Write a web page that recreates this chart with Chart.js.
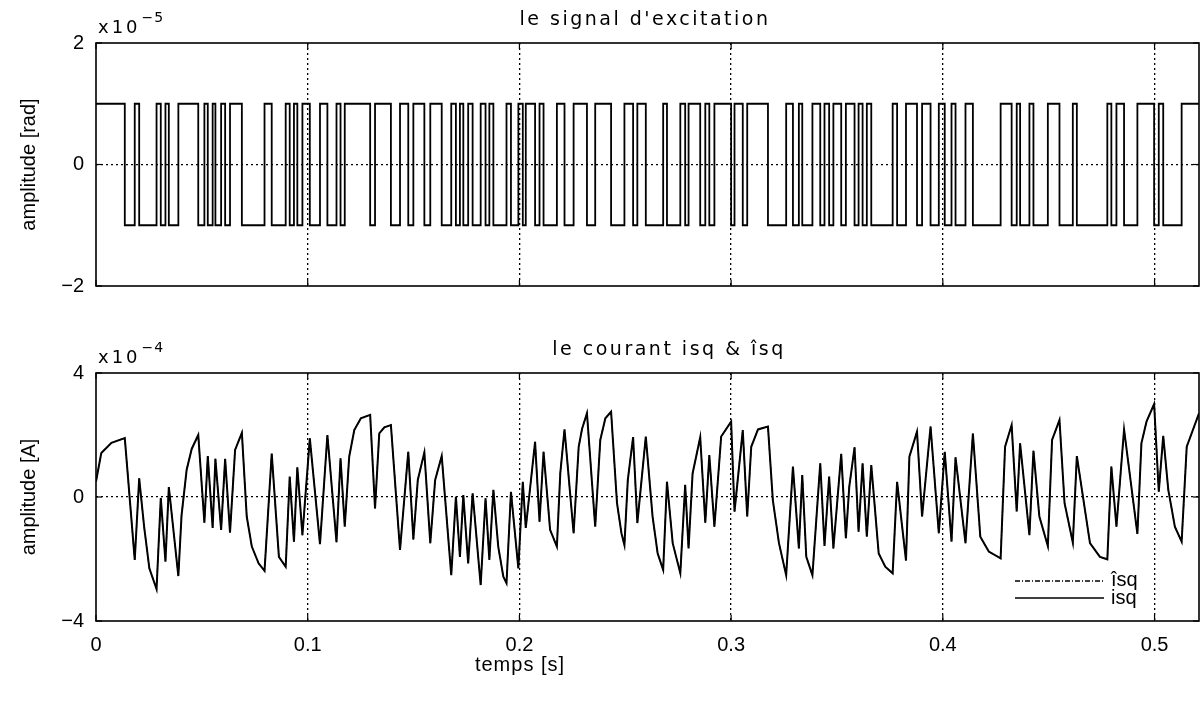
<!DOCTYPE html>
<html>
<head>
<meta charset="utf-8">
<script src="https://cdn.jsdelivr.net/npm/chart.js@4.4.0/dist/chart.umd.min.js"></script>
<style>
  body { margin: 0; background: #fff; }
  #wrap { position: relative; width: 1204px; height: 702px; }
  #top { position: absolute; left: 0; top: 0; }
  #bot { position: absolute; left: 0; top: 310px; }
</style>
</head>
<body>
<div id="wrap">
  <canvas id="top" width="1204" height="310"></canvas>
  <canvas id="bot" width="1204" height="392"></canvas>
</div>
<script>
// time axis
var xMax = 0.521;
var xTicks = [0, 0.1, 0.2, 0.3, 0.4, 0.5];
var xLabels = ['0', '0.1', '0.2', '0.3', '0.4', '0.5'];

// excitation signal (x1e-5 rad): starts at +1, flips sign at each switch time
var excStart = 1;
var excSwitch = [0.0136,0.0183,0.0204,0.0286,0.0306,0.0328,0.0344,0.0389,0.0483,0.0512,
  0.0528,0.0551,0.0564,0.0591,0.061,0.0633,0.0689,0.0796,0.083,0.0896,
  0.0915,0.0935,0.0951,0.0975,0.101,0.1058,0.1093,0.1136,0.1155,0.1175,
  0.1295,0.1318,0.1393,0.1436,0.1475,0.1499,0.1551,0.1579,0.1633,0.1678,
  0.17,0.1719,0.1735,0.1758,0.1779,0.1817,0.184,0.1858,0.1877,0.1939,
  0.196,0.1995,0.2016,0.203,0.2074,0.2095,0.2114,0.2177,0.2213,0.2256,
  0.2319,0.2358,0.2433,0.2496,0.2537,0.2557,0.2597,0.2679,0.2697,0.276,
  0.2783,0.2799,0.2854,0.2878,0.2897,0.2921,0.3,0.3016,0.3055,0.3076,
  0.3174,0.326,0.3292,0.332,0.3336,0.3384,0.3421,0.3441,0.3463,0.3483,
  0.352,0.3542,0.3583,0.3602,0.3621,0.3641,0.3662,0.3763,0.3784,0.3826,
  0.3878,0.3902,0.3942,0.3981,0.4009,0.4041,0.406,0.4107,0.4142,0.4273,
  0.4325,0.4349,0.4365,0.4409,0.4428,0.4496,0.4551,0.4614,0.4633,0.4777,
  0.4796,0.482,0.4856,0.4919,0.4998,0.502,0.5041,0.5128];
var excYTicks = [-2, 0, 2];
var excYLabels = ['\u22122', '0', '2'];

// current isq (x1e-4 A)
var isqT = [0,0.0025,0.0073,0.0136,0.0183,0.0204,0.0228,0.0252,0.0286,0.0306,0.0328,0.0344,0.0389,0.0404,0.0428,
  0.0452,0.0483,0.0512,0.0528,0.0551,0.0564,0.0591,0.061,0.0633,0.0657,0.0689,0.0712,0.0736,0.0768,0.0796,
  0.083,0.0864,0.0896,0.0915,0.0935,0.0951,0.0975,0.101,0.1058,0.1093,0.1136,0.1155,0.1175,0.1196,0.122,
  0.1251,0.1295,0.1318,0.1338,0.1362,0.1393,0.1436,0.1475,0.1499,0.152,0.1551,0.1579,0.1602,0.1633,0.1678,
  0.17,0.1719,0.1735,0.1758,0.1779,0.1817,0.184,0.1858,0.1877,0.19,0.1924,0.1939,0.196,0.1995,0.2016,
  0.203,0.2074,0.2095,0.2114,0.2145,0.2177,0.2193,0.2213,0.2256,0.228,0.2296,0.2319,0.2358,0.2382,0.2406,
  0.2433,0.2461,0.2482,0.2496,0.2512,0.2537,0.2557,0.2597,0.2629,0.2653,0.2679,0.2697,0.2724,0.276,0.2783,
  0.2799,0.2818,0.2854,0.2878,0.2897,0.2921,0.2953,0.3,0.3016,0.3055,0.3076,0.3095,0.3127,0.3174,0.3197,
  0.3226,0.326,0.3292,0.332,0.3336,0.3355,0.3384,0.3421,0.3441,0.3463,0.3483,0.352,0.3542,0.3558,0.3583,
  0.3602,0.3621,0.3641,0.3662,0.3697,0.3728,0.3763,0.3784,0.3826,0.3842,0.3878,0.3902,0.3942,0.3981,0.4009,
  0.4041,0.406,0.4107,0.4142,0.4177,0.4217,0.4273,0.4294,0.4325,0.4349,0.4365,0.4409,0.4428,0.4456,0.4496,
  0.4516,0.4551,0.4575,0.4614,0.4633,0.4695,0.4742,0.4777,0.4796,0.482,0.4856,0.4919,0.4938,0.4962,0.4998,
  0.502,0.5041,0.5065,0.5096,0.5128,0.5152,0.521];
var isqV = [0.5,1.42,1.75,1.9,-2.03,0.6,-1.0,-2.3,-2.97,-0.03,-2.09,0.32,-2.55,-0.6,0.87,
  1.55,2.0,-0.83,1.32,-1.0,1.23,-1.06,1.23,-1.15,1.52,2.07,-0.63,-1.6,-2.14,-2.38,
  1.4,-1.93,-2.25,0.66,-1.44,0.96,-1.23,1.89,-1.52,2.0,-1.46,1.25,-0.96,1.3,2.16,
  2.54,2.65,-0.37,2.05,2.25,2.32,-1.71,1.46,-1.37,0.55,1.44,-1.49,0.55,1.32,-2.52,
  0.01,-1.93,0.06,-2.14,0.12,-2.84,-0.04,-2.03,0.23,-1.6,-2.57,-2.78,0.17,-2.3,0.49,
  -1.0,1.78,-0.8,1.46,-1.06,-1.6,0.76,2.18,-1.17,1.62,2.2,2.7,-0.96,1.84,2.54,
  2.75,-0.2,-1.17,-1.55,0.55,1.93,-0.84,1.95,-0.63,-1.82,-2.35,0.49,-1.49,-2.46,0.39,
  -1.66,0.76,1.93,-0.83,1.35,-0.96,1.95,2.43,-0.47,2.16,-0.63,1.62,2.18,2.27,-0.1,
  -1.49,-2.52,0.98,-1.66,0.71,-1.93,-2.52,1.09,-1.58,0.66,-1.66,1.39,-1.33,0.33,1.6,
  -1.12,1.09,-1.28,1.03,-1.82,-2.25,-2.46,0.49,-2.05,1.3,2.11,-0.63,2.27,-1.17,1.46,
  -1.44,1.28,-1.49,2.05,-1.28,-1.76,-1.98,1.62,2.32,-0.47,1.73,-1.23,1.49,-0.63,-1.58,
  1.84,2.48,-0.2,-1.47,1.32,-1.49,-1.93,-2.01,0.98,-0.96,2.18,-1.19,1.73,2.43,3.0,
  0.17,1.97,0.23,-0.96,-1.44,1.62,2.7];
var isqYTicks = [-4, 0, 4];
var isqYLabels = ['\u22124', '0', '4'];

var FONT = '"Liberation Sans", Arial, sans-serif';
var WIDE = '"DejaVu Sans", sans-serif';

// build point tables from the arrays
var excData = [{ x: 0, y: excStart }];
var lvl = excStart;
excSwitch.forEach(function (t) {
  lvl = -lvl;
  excData.push({ x: t, y: lvl });
});
excData.push({ x: xMax, y: lvl });

var isqData = isqT.map(function (t, i) { return { x: t, y: isqV[i] }; });

function line(ctx, x1, y1, x2, y2) {
  ctx.beginPath(); ctx.moveTo(x1, y1); ctx.lineTo(x2, y2); ctx.stroke();
}

// frame, inner tick marks, titles, exponent, legend
var deco = {
  id: 'deco',
  afterDraw: function (chart, args, o) {
    var ctx = chart.ctx, a = chart.chartArea;
    var xs = chart.scales.x, ys = chart.scales.y;
    ctx.save();
    ctx.strokeStyle = '#000';
    ctx.lineWidth = 1.6;
    ctx.setLineDash([]);
    ctx.strokeRect(a.left, a.top, a.right - a.left, a.bottom - a.top);
    ctx.lineWidth = 1.2;
    xTicks.forEach(function (v) {
      var px = xs.getPixelForValue(v);
      line(ctx, px, a.top, px, a.top + 6);
      line(ctx, px, a.bottom, px, a.bottom - 6);
    });
    o.yTicks.forEach(function (v) {
      var py = ys.getPixelForValue(v);
      line(ctx, a.left, py, a.left + 6, py);
      line(ctx, a.right, py, a.right - 6, py);
    });

    ctx.fillStyle = '#000';
    ctx.textBaseline = 'alphabetic';
    ctx.textAlign = 'center';
    ctx.font = '19px ' + WIDE;
    ctx.letterSpacing = '2.5px';
    ctx.fillText(o.title, o.titleX, a.top - 18);

    ctx.textAlign = 'left';
    ctx.font = '18px ' + WIDE;
    ctx.letterSpacing = '3px';
    ctx.fillText('x10', a.left + 2, a.top - 10);
    var w = ctx.measureText('x10').width;
    ctx.font = '14px ' + WIDE;
    ctx.letterSpacing = '1px';
    ctx.fillText(o.exp, a.left + w + 3, a.top - 21);
    ctx.letterSpacing = '0px';

    if (o.xTitle) {
      ctx.textAlign = 'center';
      ctx.font = '20px ' + FONT;
      ctx.letterSpacing = '1px';
      ctx.fillText(o.xTitle, 520, a.bottom + 50);
      ctx.letterSpacing = '0px';
    }

    if (o.legend) {
      // legend sits inside the lower right corner of the axes
      var ly = a.bottom - 40;
      ctx.lineWidth = 1.4;
      ctx.setLineDash([5, 2, 1, 2]);
      line(ctx, 1015, ly, 1104, ly);
      ctx.setLineDash([]);
      line(ctx, 1015, ly + 17, 1104, ly + 17);
      ctx.font = '20px ' + FONT;
      ctx.textAlign = 'left';
      ctx.fillText('\u00eesq', 1111, ly + 5);
      ctx.fillText('isq', 1111, ly + 23);
    }
    ctx.restore();
  }
};

function makeScales(yMin, yMax, yTicks, yLabels, yTitle, showX) {
  return {
    x: {
      type: 'linear', min: 0, max: xMax,
      afterBuildTicks: function (s) { s.ticks = xTicks.map(function (v) { return { value: v }; }); },
      afterFit: function (s) { s.height = showX ? 60 : 0; },
      grid: {
        color: function (c) { return c.tick && c.tick.value > 0 ? '#000' : 'rgba(0,0,0,0)'; },
        lineWidth: 1.3, drawTicks: false
      },
      border: { display: false, dash: [2, 3] },
      ticks: {
        display: showX, color: '#000', padding: 12, maxRotation: 0,
        font: { family: FONT, size: 20 },
        callback: function (v, i) { return xLabels[i]; }
      }
    },
    y: {
      min: yMin, max: yMax,
      afterBuildTicks: function (s) { s.ticks = yTicks.map(function (v) { return { value: v }; }); },
      afterFit: function (s) { s.width = 96; },
      grid: {
        color: function (c) { return c.tick && c.tick.value === 0 ? '#000' : 'rgba(0,0,0,0)'; },
        lineWidth: 1.3, drawTicks: false
      },
      border: { display: false, dash: [2, 3] },
      ticks: {
        color: '#000', padding: 12,
        font: { family: FONT, size: 20 },
        callback: function (v, i) { return yLabels[i]; }
      },
      title: {
        display: true, text: yTitle, color: '#000',
        font: { family: FONT, size: 20 }, padding: { top: 17, bottom: 0 }
      }
    }
  };
}

new Chart(document.getElementById('top'), {
  type: 'line',
  data: {
    datasets: [{
      label: 'excitation', data: excData, stepped: true,
      borderColor: '#000', borderWidth: 1.8, pointRadius: 0, fill: false
    }]
  },
  options: {
    responsive: false, animation: false, devicePixelRatio: 1,
    layout: { padding: { top: 43, right: 5, bottom: 22, left: 0 } },
    scales: makeScales(-2, 2, excYTicks, excYLabels, 'amplitude [rad]', false),
    plugins: {
      legend: { display: false }, tooltip: { enabled: false },
      deco: { title: "le signal d'excitation", titleX: 645, exp: '\u22125', yTicks: excYTicks }
    }
  },
  plugins: [deco]
});

new Chart(document.getElementById('bot'), {
  type: 'line',
  data: {
    datasets: [{
      label: 'isq', data: isqData,
      borderColor: '#000', borderWidth: 2, pointRadius: 0, fill: false
    }, {
      label: '\u00eesq', data: isqData,
      borderColor: '#000', borderWidth: 1.2, borderDash: [5, 2, 1, 2], pointRadius: 0, fill: false
    }]
  },
  options: {
    responsive: false, animation: false, devicePixelRatio: 1,
    layout: { padding: { top: 63, right: 5, bottom: 21, left: 0 } },
    scales: makeScales(-4, 4, isqYTicks, isqYLabels, 'amplitude [A]', true),
    plugins: {
      legend: { display: false }, tooltip: { enabled: false },
      deco: {
        title: 'le courant isq & \u00eesq', titleX: 669, exp: '\u22124', yTicks: isqYTicks,
        xTitle: 'temps [s]', legend: true
      }
    }
  },
  plugins: [deco]
});
</script>
</body>
</html>
